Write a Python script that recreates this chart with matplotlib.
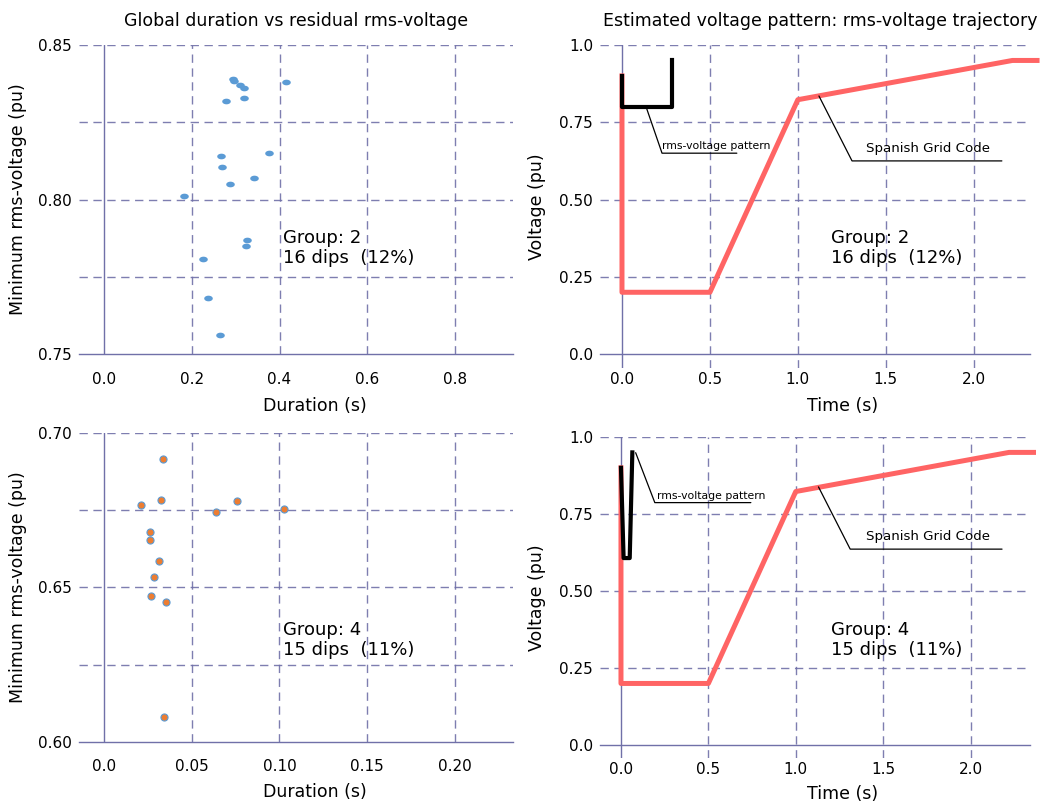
import numpy as np
import matplotlib
matplotlib.use("Agg")
import matplotlib.pyplot as plt

# group 2 dips: duration (s) and minimum rms voltage (pu)
g2_duration = [0.294, 0.296, 0.310, 0.319, 0.279, 0.320, 0.414, 0.267, 0.269,
               0.377, 0.286, 0.342, 0.183, 0.326, 0.323, 0.225, 0.237, 0.264]
g2_vmin = [0.839, 0.8385, 0.837, 0.836, 0.832, 0.833, 0.838, 0.814, 0.8105,
           0.815, 0.805, 0.807, 0.801, 0.787, 0.785, 0.7806, 0.768, 0.756]

# group 4 dips
g4_duration = [0.0336, 0.0325, 0.0213, 0.0640, 0.0758, 0.1024, 0.0260,
               0.0260, 0.0312, 0.0285, 0.0266, 0.0355, 0.0342]
g4_vmin = [0.6915, 0.6784, 0.6766, 0.6745, 0.6779, 0.6753, 0.6681,
           0.6654, 0.6585, 0.6535, 0.6473, 0.6453, 0.6081]

# estimated rms-voltage patterns
g2_pattern_t = [0.0, 0.0, 0.285, 0.285]
g2_pattern_v = [0.9, 0.8, 0.8, 0.95]
g4_pattern_t = [0.0, 0.015, 0.05, 0.065]
g4_pattern_v = [0.9, 0.607, 0.607, 0.95]

# Spanish grid code limit curve
sgc_t = [0.0, 0.0, 0.5, 1.0, 2.22, 2.36]
sgc_v = [0.9, 0.2, 0.2, 0.823, 0.95, 0.95]

groups = [("2", 16, 12), ("4", 15, 11)]

W, H = 1042, 802
AXIS = "#7070a8"
BLUE = "#5b9bd5"
ORANGE = "#ed7d31"
RED = "#ff6464"


def box(x0, y0, x1, y1):
    return [x0 / W, 1 - y1 / H, (x1 - x0) / W, (y1 - y0) / H]


def style(ax, xlim, ylim, xticks, xlabels, yticks, ylabels, base, xpad):
    for s in ax.spines.values():
        s.set_visible(False)
    ax.set_xlim(*xlim)
    ax.set_ylim(*ylim)
    ax.set_xticks(xticks, xlabels)
    ax.set_yticks(yticks, ylabels)
    ax.grid(True, color=AXIS, linestyle=(0, (6, 4)), linewidth=1.0, alpha=0.9)
    ax.set_axisbelow(True)
    # the solid axis lines replace the grid lines at x=0 and at the base
    ax.get_xgridlines()[0].set_visible(False)
    for tick, gl in zip(yticks, ax.get_ygridlines()):
        if tick == base:
            gl.set_visible(False)
    ax.tick_params(length=0, labelsize=11, pad=5)
    ax.tick_params(axis="x", pad=xpad)
    ax.axhline(base, color=AXIS, lw=1.0, zorder=1.5, clip_on=False)
    ax.axvline(0, color=AXIS, lw=1.0, zorder=1.5)


def leader(ax, text, xy, end, angle, txy, size):
    ax.annotate("", xy=xy, xytext=end,
                arrowprops=dict(arrowstyle="-", lw=0.9, color="black",
                                shrinkA=0, shrinkB=0,
                                connectionstyle="angle,angleA=0,angleB=%d,rad=0" % angle))
    ax.text(txy[0], txy[1], text, fontsize=size)


fig = plt.figure(figsize=(W / 100, H / 100), dpi=100)

ax_tl = fig.add_axes(box(79, 45, 513, 354))
ax_tr = fig.add_axes(box(600, 45, 1030, 368))
ax_bl = fig.add_axes(box(79, 433, 513, 742))
ax_br = fig.add_axes(box(600, 437, 1030, 758))

theta = np.linspace(0, 2 * np.pi, 60)
ellipse = np.column_stack([np.cos(theta), 0.66 * np.sin(theta)])

# top left: group 2 scatter
style(ax_tl, (-0.057, 0.932), (0.75, 0.85),
      [0.0, 0.2, 0.4, 0.6, 0.8], ["0.0", "0.2", "0.4", "0.6", "0.8"],
      [0.75, 0.775, 0.8, 0.825, 0.85], ["0.75", "", "0.80", "", "0.85"],
      0.75, 13)
ax_tl.scatter(g2_duration, g2_vmin, marker=ellipse, s=38, color=BLUE,
              linewidths=0, zorder=3)
ax_tl.set_title("Global duration vs residual rms-voltage", fontsize=12.5, pad=14)

# bottom left: group 4 scatter
style(ax_bl, (-0.0142, 0.233), (0.60, 0.70),
      [0.0, 0.05, 0.10, 0.15, 0.20], ["0.0", "0.05", "0.10", "0.15", "0.20"],
      [0.60, 0.625, 0.65, 0.675, 0.70], ["0.60", "", "0.65", "", "0.70"],
      0.60, 12)
ax_bl.scatter(g4_duration, g4_vmin, s=26, color=ORANGE, edgecolors=BLUE,
              linewidths=0.8, zorder=3)

# right: voltage patterns against the grid code
vt_ticks = [0.0, 0.25, 0.5, 0.75, 1.0]
vt_labels = ["0.0", "0.25", "0.50", "0.75", "1.0"]
t_ticks = [0.0, 0.5, 1.0, 1.5, 2.0]
t_labels = ["0.0", "0.5", "1.0", "1.5", "2.0"]
style(ax_tr, (-0.125, 2.32), (-0.045, 1.0), t_ticks, t_labels,
      vt_ticks, vt_labels, 0.0, 3)
style(ax_br, (-0.12, 2.34), (-0.042, 1.0), t_ticks, t_labels,
      vt_ticks, vt_labels, 0.0, 3)

ax_tr.plot(sgc_t, sgc_v, color=RED, lw=3.6, clip_on=False, zorder=3)
ax_tr.plot(g2_pattern_t, g2_pattern_v, color="black", lw=3.0, zorder=4)
ax_br.plot(sgc_t, sgc_v, color=RED, lw=3.6, clip_on=False, zorder=3)
ax_br.plot(g4_pattern_t, g4_pattern_v, color="black", lw=3.0, zorder=4)
ax_tr.set_title("Estimated voltage pattern: rms-voltage trajectory",
                fontsize=12.5, pad=14, x=0.512)

leader(ax_tr, "rms-voltage pattern", (0.14, 0.795), (0.653, 0.65), 109,
       (0.227, 0.665), 7.8)
leader(ax_tr, "Spanish Grid Code", (1.12, 0.835), (2.16, 0.625), 117,
       (1.386, 0.655), 9.6)
leader(ax_br, "rms-voltage pattern", (0.084, 0.949), (0.743, 0.787), 111,
       (0.206, 0.80), 7.8)
leader(ax_br, "Spanish Grid Code", (1.13, 0.838), (2.18, 0.636), 117,
       (1.40, 0.665), 9.6)

# group labels
for ax, (gid, n, pct), xy in [(ax_tl, groups[0], (0.408, 0.7843)),
                              (ax_tr, groups[0], (1.19, 0.343)),
                              (ax_bl, groups[1], (0.102, 0.633)),
                              (ax_br, groups[1], (1.20, 0.341))]:
    ax.text(xy[0], xy[1], "Group: %s\n%d dips  (%d%%)" % (gid, n, pct),
            fontsize=13, va="center", linespacing=1.2)

for ax in (ax_tl, ax_bl):
    ax.set_ylabel("Minimum rms-voltage (pu)", fontsize=12.5)
    ax.yaxis.set_label_coords(-0.12, 0.5)
    ax.set_xlabel("Duration (s)", fontsize=12.5)
ax_tl.xaxis.set_label_coords(0.544, -0.139)
ax_bl.xaxis.set_label_coords(0.544, -0.133)

for ax in (ax_tr, ax_br):
    ax.set_ylabel("Voltage (pu)", fontsize=12.5)
    ax.yaxis.set_label_coords(-0.126, 0.5)
    ax.set_xlabel("Time (s)", fontsize=12.5)
ax_tr.xaxis.set_label_coords(0.565, -0.09)
ax_br.xaxis.set_label_coords(0.565, -0.085)

fig.savefig("out.png", dpi=100)
